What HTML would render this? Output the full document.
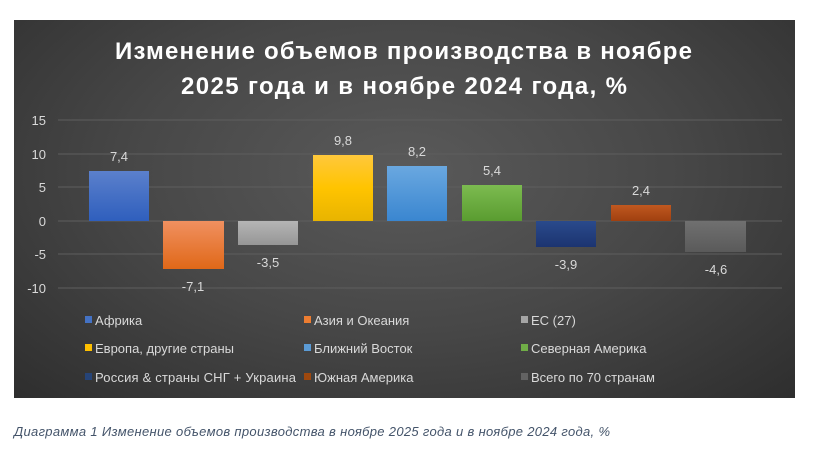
<!DOCTYPE html>
<html><head><meta charset="utf-8"><style>
body{margin:0;width:818px;height:449px;background:#fff;overflow:hidden;font-family:"Liberation Sans",sans-serif}
.box{position:absolute;left:14px;top:20px;width:781px;height:378px;background:radial-gradient(ellipse at 50% 40%,#5a5a5a 0%,#474747 50%,#2e2e2e 100%)}
</style></head><body>
<div class="box"></div>
<svg width="818" height="449" style="position:absolute;left:0;top:0" font-family="Liberation Sans, sans-serif">
<defs>
<linearGradient id="g1" x1="0" y1="0" x2="0" y2="1"><stop offset="0" stop-color="#5b80cc"/><stop offset="1" stop-color="#2f5fbd"/></linearGradient>
<linearGradient id="g2" x1="0" y1="0" x2="0" y2="1"><stop offset="0" stop-color="#f09060"/><stop offset="1" stop-color="#e06818"/></linearGradient>
<linearGradient id="g3" x1="0" y1="0" x2="0" y2="1"><stop offset="0" stop-color="#b5b5b5"/><stop offset="1" stop-color="#969696"/></linearGradient>
<linearGradient id="g4" x1="0" y1="0" x2="0" y2="1"><stop offset="0" stop-color="#ffc83c"/><stop offset="0.5" stop-color="#ffc400"/><stop offset="1" stop-color="#e8b400"/></linearGradient>
<linearGradient id="g5" x1="0" y1="0" x2="0" y2="1"><stop offset="0" stop-color="#6aa8e0"/><stop offset="1" stop-color="#3a86d0"/></linearGradient>
<linearGradient id="g6" x1="0" y1="0" x2="0" y2="1"><stop offset="0" stop-color="#7cbb50"/><stop offset="1" stop-color="#5a9c30"/></linearGradient>
<linearGradient id="g7" x1="0" y1="0" x2="0" y2="1"><stop offset="0" stop-color="#2a4a8c"/><stop offset="1" stop-color="#1c3470"/></linearGradient>
<linearGradient id="g8" x1="0" y1="0" x2="0" y2="1"><stop offset="0" stop-color="#c05820"/><stop offset="1" stop-color="#a04010"/></linearGradient>
<linearGradient id="g9" x1="0" y1="0" x2="0" y2="1"><stop offset="0" stop-color="#707070"/><stop offset="1" stop-color="#5a5a5a"/></linearGradient>
</defs>
<text x="115" y="59" fill="#fff" font-size="24" font-weight="bold" textLength="577" lengthAdjust="spacing">Изменение объемов производства в ноябре</text>
<text x="181" y="94" fill="#fff" font-size="24" font-weight="bold" textLength="446" lengthAdjust="spacing">2025 года и в ноябре 2024 года, %</text>
<g stroke="#5e5e5e" stroke-width="1">
<line x1="58" x2="782" y1="120" y2="120"/><line x1="58" x2="782" y1="154" y2="154"/><line x1="58" x2="782" y1="187" y2="187"/><line x1="58" x2="782" y1="221" y2="221"/><line x1="58" x2="782" y1="254" y2="254"/><line x1="58" x2="782" y1="288" y2="288"/>
</g>
<g fill="#d9d9d9" font-size="13" text-anchor="end">
<text x="46" y="125">15</text><text x="46" y="159">10</text><text x="46" y="192">5</text><text x="46" y="226">0</text><text x="46" y="259">-5</text><text x="46" y="293">-10</text>
</g>
<g>
<rect x="89" y="171" width="60" height="50" fill="url(#g1)"/>
<rect x="163" y="221" width="61" height="48" fill="url(#g2)"/>
<rect x="238" y="221" width="60" height="24" fill="url(#g3)"/>
<rect x="313" y="155" width="60" height="66" fill="url(#g4)"/>
<rect x="387" y="166" width="60" height="55" fill="url(#g5)"/>
<rect x="462" y="185" width="60" height="36" fill="url(#g6)"/>
<rect x="536" y="221" width="60" height="26" fill="url(#g7)"/>
<rect x="611" y="205" width="60" height="16" fill="url(#g8)"/>
<rect x="685" y="221" width="61" height="31" fill="url(#g9)"/>
</g>
<g fill="#d9d9d9" font-size="13" text-anchor="middle">
<text x="119" y="161">7,4</text><text x="193" y="291">-7,1</text><text x="268" y="267">-3,5</text>
<text x="343" y="145">9,8</text><text x="417" y="156">8,2</text><text x="492" y="175">5,4</text>
<text x="566" y="269">-3,9</text><text x="641" y="195">2,4</text><text x="716" y="274">-4,6</text>
</g>
<g font-size="13" fill="#d9d9d9">
<rect x="85" y="316" width="7" height="7" fill="#4472c4"/><text x="95" y="325">Африка</text>
<rect x="304" y="316" width="7" height="7" fill="#ed7d31"/><text x="314" y="325">Азия и Океания</text>
<rect x="521" y="316" width="7" height="7" fill="#a5a5a5"/><text x="531" y="325">ЕС (27)</text>
<rect x="85" y="344" width="7" height="7" fill="#ffc000"/><text x="95" y="353">Европа, другие страны</text>
<rect x="304" y="344" width="7" height="7" fill="#5b9bd5"/><text x="314" y="353">Ближний Восток</text>
<rect x="521" y="344" width="7" height="7" fill="#70ad47"/><text x="531" y="353">Северная Америка</text>
<rect x="85" y="373" width="7" height="7" fill="#264478"/><text x="95" y="382" textLength="201">Россия &amp; страны СНГ + Украина</text>
<rect x="304" y="373" width="7" height="7" fill="#9e480e"/><text x="314" y="382">Южная Америка</text>
<rect x="521" y="373" width="7" height="7" fill="#636363"/><text x="531" y="382">Всего по 70 странам</text>
</g>
<text x="14" y="436" font-size="13" font-style="italic" fill="#44546a" textLength="596" lengthAdjust="spacing">Диаграмма 1 Изменение объемов производства в ноябре 2025 года и в ноябре 2024 года, %</text>
</svg>
</body></html>
